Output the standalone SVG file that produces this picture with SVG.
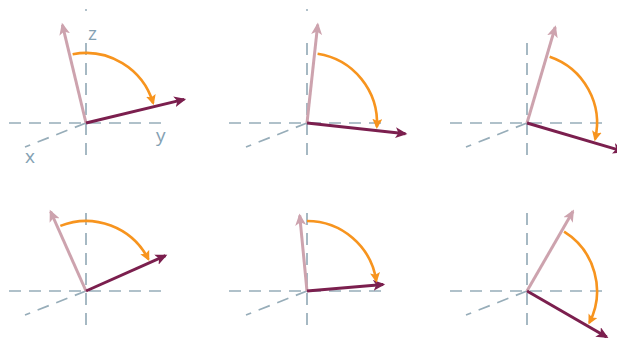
<svg xmlns="http://www.w3.org/2000/svg" width="617" height="338" viewBox="0 0 617 338">
<style>
.ax{stroke:#97adb9;stroke-width:1.7;stroke-dasharray:12 8;fill:none}
.pk{stroke:#cda3ae;stroke-width:3;fill:none;marker-end:url(#hp)}
.dk{stroke:#7b1f4e;stroke-width:3;fill:none;marker-end:url(#hd)}
.arc{stroke:#f7941e;stroke-width:2.6;fill:none;marker-end:url(#ho)}
.lb{font-family:"Open Sans","Liberation Sans",sans-serif;font-size:19px;fill:#84a1b3}
.dot{fill:#97adb9}
</style>
<defs>
<marker id="hp" markerUnits="userSpaceOnUse" markerWidth="13" markerHeight="11" refX="10" refY="5.5" orient="auto" viewBox="0 0 13 11"><path d="M0,0 L12,5.5 L0,11 L3,5.5 z" fill="#cda3ae"/></marker>
<marker id="hd" markerUnits="userSpaceOnUse" markerWidth="13" markerHeight="11" refX="10" refY="5.5" orient="auto" viewBox="0 0 13 11"><path d="M0,0 L12,5.5 L0,11 L3,5.5 z" fill="#7b1f4e"/></marker>
<marker id="ho" markerUnits="userSpaceOnUse" markerWidth="11" markerHeight="10" refX="8" refY="5" orient="auto" viewBox="0 0 11 10"><path d="M0,0 L10,5 L0,10 L2,5 z" fill="#f7941e"/></marker>
</defs>

<g id="panel1">
<circle class="dot" cx="86" cy="10" r="1"/>
<line class="ax" x1="9" y1="123" x2="168" y2="123"/>
<line class="ax" x1="86" y1="43" x2="86" y2="160"/>
<line class="ax" x1="86" y1="123" x2="25" y2="147"/>
<text class="lb" x="88" y="40">z</text>
<text class="lb" x="156" y="142">y</text>
<text class="lb" x="25" y="163">x</text>
<line class="pk" x1="86" y1="123" x2="62.4" y2="24.8"/>
<line class="dk" x1="86" y1="123" x2="184.2" y2="99.4"/>
<path class="arc" d="M72.64,54.29 A70,70 0 0 1 153.12,103.12"/>
</g>

<g id="panel2">
<circle class="dot" cx="307" cy="10" r="1"/>
<line class="ax" x1="229" y1="123" x2="389" y2="123"/>
<line class="ax" x1="307" y1="43" x2="307" y2="160"/>
<line class="ax" x1="307" y1="123" x2="246" y2="147"/>
<line class="pk" x1="307" y1="123" x2="317.7" y2="24.6"/>
<line class="dk" x1="307" y1="123" x2="405.4" y2="133.7"/>
<path class="arc" d="M317.59,53.8 A70,70 0 0 1 376.89,126.91"/>
</g>

<g id="panel3">
<line class="ax" x1="450" y1="123" x2="610" y2="123"/>
<line class="ax" x1="527" y1="43" x2="527" y2="160"/>
<line class="ax" x1="527" y1="123" x2="466" y2="147"/>
<line class="pk" x1="527" y1="123" x2="555.2" y2="27.1"/>
<line class="dk" x1="527" y1="123" x2="622.9" y2="151.2"/>
<path class="arc" d="M549.67,56.77 A70,70 0 0 1 595.09,139.22"/>
</g>

<g id="panel4">
<line class="ax" x1="9" y1="291" x2="168" y2="291"/>
<line class="ax" x1="86" y1="213" x2="86" y2="328"/>
<line class="ax" x1="86" y1="291" x2="25" y2="315"/>
<line class="pk" x1="86" y1="291" x2="50.6" y2="211.5"/>
<line class="dk" x1="86" y1="291" x2="165.5" y2="255.6"/>
<path class="arc" d="M60.35,225.87 A70,70 0 0 1 148.37,259.22"/>
</g>

<g id="panel5">
<line class="ax" x1="229" y1="291" x2="389" y2="291"/>
<line class="ax" x1="307" y1="213" x2="307" y2="328"/>
<line class="ax" x1="307" y1="291" x2="246" y2="315"/>
<line class="pk" x1="307" y1="291" x2="299.7" y2="215.4"/>
<line class="dk" x1="307" y1="291" x2="383.2" y2="284.5"/>
<path class="arc" d="M307,221 A70,70 0 0 1 376.23,280.65"/>
</g>

<g id="panel6">
<line class="ax" x1="450" y1="291" x2="610" y2="291"/>
<line class="ax" x1="527" y1="213" x2="527" y2="328"/>
<line class="ax" x1="527" y1="291" x2="466" y2="315"/>
<line class="pk" x1="527" y1="291" x2="573" y2="211.3"/>
<line class="dk" x1="527" y1="291" x2="606.7" y2="337"/>
<path class="arc" d="M564.09,231.64 A70,70 0 0 1 589.37,322.78"/>
</g>
</svg>
